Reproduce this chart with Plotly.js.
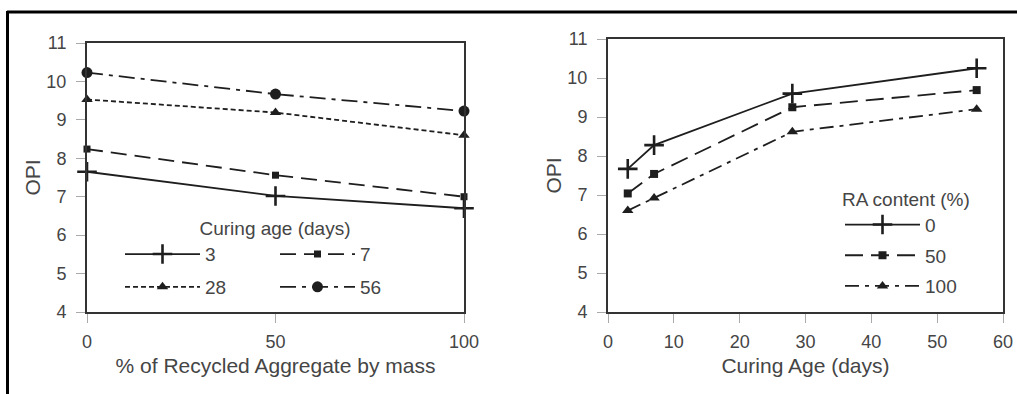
<!DOCTYPE html>
<html>
<head>
<meta charset="utf-8">
<script src="https://cdn.plot.ly/plotly-3.0.1.min.js"></script>
<style>
html,body{margin:0;padding:0;background:#fff;}
#chart{width:1017px;height:394px;}
</style>
</head>
<body>
<div id="chart"></div>
<script>
// ---- data ----
const raPercent = [0, 50, 100];
const curingLabels = ['3', '7', '28', '56'];
const opiCuring3 = [7.65, 7.02, 6.70];
const opiCuring7 = [8.24, 7.56, 7.00];
const opiCuring28 = [9.53, 9.19, 8.60];
const opiCuring56 = [10.23, 9.67, 9.23];

const curingAge = [3, 7, 28, 56];
const raLabels = ['0', '50', '100'];
const opiRA0 = [7.67, 8.28, 9.60, 10.25];
const opiRA50 = [7.04, 7.54, 9.25, 9.69];
const opiRA100 = [6.60, 6.92, 8.62, 9.20];

const leftXTicks = [0, 50, 100];
const rightXTicks = [0, 10, 20, 30, 40, 50, 60];
const yTicks = [4, 5, 6, 7, 8, 9, 10, 11];

// ---- layout helpers ----
const W = 1017, H = 394;
const M = {l: 87, r: 14, t: 39, b: 82};
const gw = W - M.l - M.r, gh = H - M.t - M.b;
const px = x => (x - M.l) / gw;
const py = y => (H - M.b - y) / gh;

const FONT = 'Liberation Sans, Arial, sans-serif';
const TXT = '#454545';
const LC = '#1e1e1e';

function tr(x, y, name, xa, ya, dash, symbol, msize, leg, grp) {
  const plus = symbol === 'cross-thin';
  return {
    type: 'scatter', mode: 'lines+markers', x: x, y: y, name: name,
    xaxis: xa, yaxis: ya, legend: leg, legendgroup: grp, cliponaxis: false,
    line: {color: LC, width: 1.8, dash: dash},
    marker: {symbol: symbol, size: msize, color: LC,
             line: {color: LC, width: plus ? 2.6 : 0}}
  };
}

const data = [
  tr(raPercent, opiCuring3, curingLabels[0], 'x', 'y', 'solid', 'cross-thin', 14, 'legend', 'a'),
  tr(raPercent, opiCuring7, curingLabels[1], 'x', 'y', '16px,8px', 'square', 7, 'legend', 'b'),
  tr(raPercent, opiCuring28, curingLabels[2], 'x', 'y', '5px,3px', 'triangle-up', 10, 'legend2', 'c'),
  tr(raPercent, opiCuring56, curingLabels[3], 'x', 'y', '16px,6px,4px,6px', 'circle', 11, 'legend2', 'd'),
  tr(curingAge, opiRA0, raLabels[0], 'x2', 'y2', 'solid', 'cross-thin', 14, 'legend3', 'e'),
  tr(curingAge, opiRA50, raLabels[1], 'x2', 'y2', '18px,8px', 'square', 8, 'legend3', 'f'),
  tr(curingAge, opiRA100, raLabels[2], 'x2', 'y2', '14px,6px,4px,6px', 'triangle-up', 10, 'legend3', 'g')
];

const axBase = {
  showline: true, mirror: true, linecolor: '#333', linewidth: 2,
  showgrid: false, zeroline: false,
  ticks: 'outside', ticklen: 9, tickcolor: '#aaa', tickwidth: 1,
  tickfont: {family: FONT, size: 18, color: TXT}, fixedrange: true
};
const titleFont = {family: FONT, size: 21, color: TXT};
const legFont = {family: FONT, size: 19, color: TXT};
const legBase = {
  orientation: 'h', bgcolor: 'rgba(0,0,0,0)', font: legFont,
  itemwidth: 75, xanchor: 'left', yanchor: 'middle', itemclick: false, itemdoubleclick: false
};

const layout = {
  width: W, height: H,
  margin: M,
  paper_bgcolor: '#fff', plot_bgcolor: '#fff',
  font: {family: FONT, color: TXT},
  xaxis: Object.assign({}, axBase, {
    domain: [0, px(464)], range: [0, 100], tickvals: leftXTicks,
    ticklabelstandoff: 3,
    title: {text: '% of Recycled Aggregate by mass', font: titleFont, standoff: 8}
  }),
  yaxis: Object.assign({}, axBase, {
    domain: [0, py(43)], range: [4, 11], tickvals: yTicks, anchor: 'x',
    ticklabelstandoff: 6,
    title: {text: 'OPI', font: titleFont, standoff: 0}
  }),
  xaxis2: Object.assign({}, axBase, {
    domain: [px(608), 1], range: [0, 60], tickvals: rightXTicks, anchor: 'y2',
    ticklabelstandoff: 3,
    title: {text: 'Curing Age (days)', font: titleFont, standoff: 8}
  }),
  yaxis2: Object.assign({}, axBase, {
    domain: [0, 1], range: [4, 11], tickvals: yTicks, anchor: 'x2',
    ticklabelstandoff: 6,
    title: {text: 'OPI', font: titleFont, standoff: 0}
  }),
  showlegend: true,
  legend: Object.assign({}, legBase, {
    x: px(120), y: py(242), entrywidth: 65,
    title: {text: 'Curing age (days)', side: 'top center', font: legFont}
  }),
  legend2: Object.assign({}, legBase, {
    x: px(120), y: py(287), entrywidth: 65
  }),
  legend3: Object.assign({}, legBase, {
    orientation: 'v', x: px(840), y: py(243), tracegroupgap: 3,
    title: {text: 'RA content (%)', side: 'top', font: legFont}
  }),
  shapes: [
    {type: 'line', xref: 'paper', yref: 'paper', x0: px(7), x1: px(1017), y0: py(12), y1: py(12),
     line: {color: '#000', width: 3}, layer: 'above'},
    {type: 'line', xref: 'paper', yref: 'paper', x0: px(7.5), x1: px(7.5), y0: py(11), y1: py(394),
     line: {color: '#000', width: 3}, layer: 'above'}
  ]
};

Plotly.newPlot('chart', data, layout, {displayModeBar: false, staticPlot: true});
</script>
</body>
</html>
